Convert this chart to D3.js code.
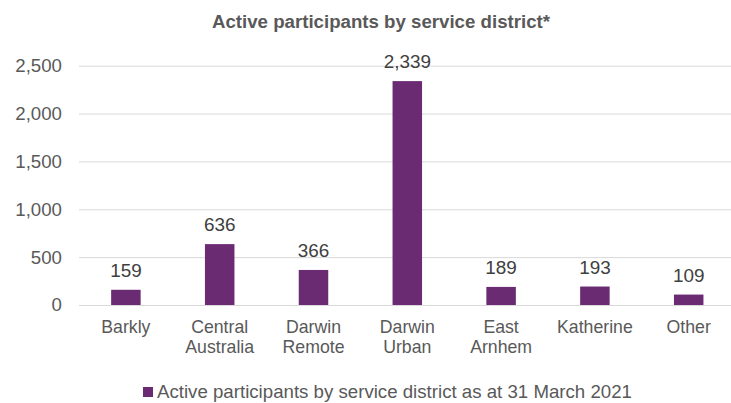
<!DOCTYPE html>
<html><head><meta charset="utf-8">
<script src="https://cdn.jsdelivr.net/npm/d3@7"></script>
<style>body{margin:0;background:#fff;}svg{display:block;font-family:"Liberation Sans",Arial,sans-serif;}</style>
</head><body><svg id="c" width="731" height="403"></svg>
<script>
const categories = [["Barkly"],["Central","Australia"],["Darwin","Remote"],["Darwin","Urban"],["East","Arnhem"],["Katherine"],["Other"]];
const values = [159, 636, 366, 2339, 189, 193, 109];
const yTicks = [0, 500, 1000, 1500, 2000, 2500];
const title = "Active participants by service district*";
const seriesName = "Active participants by service district as at 31 March 2021";

const FONT = "Liberation Sans, Arial, sans-serif";
const svg = d3.select("#c");
const keys = categories.map(c => c.join(" "));
const x = d3.scaleBand().domain(keys).range([79, 735.6]).paddingInner(0).paddingOuter(0);
const y = d3.scaleLinear().domain([0, 2500]).range([305, 65.7]);
const cx = k => x(k) + x.bandwidth() / 2;

svg.append("text").attr("x", 381).attr("y", 28).attr("text-anchor", "middle")
  .attr("font-size", 18.67).attr("font-weight", "bold").attr("fill", "#595959").text(title);

const ya = svg.append("g").attr("transform", "translate(79,0)")
  .call(d3.axisLeft(y).tickValues(yTicks).tickSize(-(731 - 79)).tickPadding(17).tickFormat(d3.format(",")));
ya.select(".domain").remove();
ya.selectAll(".tick line").attr("stroke", "#d9d9d9").attr("stroke-width", 1);
ya.selectAll(".tick text").attr("fill", "#595959").attr("font-size", 18.67).attr("font-family", FONT);

const bw = 29.5;
svg.selectAll("rect.bar").data(values).join("rect").attr("class", "bar")
  .attr("x", (d, i) => cx(keys[i]) - bw / 2)
  .attr("width", bw)
  .attr("y", d => y(d)).attr("height", d => y(0) - y(d))
  .attr("fill", "#6a2b73");

svg.selectAll("text.val").data(values).join("text").attr("class", "val")
  .attr("x", (d, i) => cx(keys[i]))
  .attr("y", d => y(d) - 13)
  .attr("text-anchor", "middle").attr("font-size", 18.9).attr("fill", "#404040")
  .text(d => d3.format(",")(d));

const cat = svg.selectAll("text.cat").data(categories).join("text").attr("class", "cat")
  .attr("x", (d, i) => cx(keys[i]))
  .attr("y", 333).attr("text-anchor", "middle").attr("font-size", 17.7).attr("fill", "#595959");
cat.selectAll("tspan").data(d => d).join("tspan")
  .attr("x", function() { return this.parentNode.getAttribute("x"); })
  .attr("dy", (d, i) => i === 0 ? 0 : 19.5).text(d => d);

const lg = svg.append("g");
lg.append("rect").attr("x", 143).attr("y", 387).attr("width", 10).attr("height", 10).attr("fill", "#6a2b73");
lg.append("text").attr("x", 157).attr("y", 398).attr("font-size", 18.67).attr("fill", "#595959").text(seriesName);
</script></body></html>
